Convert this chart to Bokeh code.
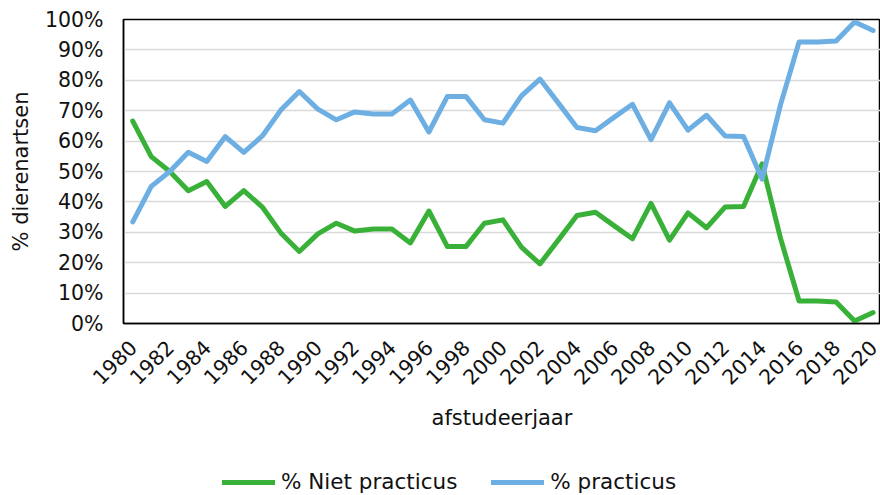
from math import pi
from bokeh.plotting import figure
from bokeh.layouts import column
from bokeh.models import (ColumnDataSource, FixedTicker, PrintfTickFormatter,
                          Legend, LegendItem, Range1d)
from bokeh.embed import file_html
from bokeh.resources import INLINE

years = list(range(1980, 2021))
niet_practicus = [66.6, 54.9, 50.0, 43.7, 46.7, 38.5, 43.7, 38.3, 29.8, 23.7,
                  29.5, 33.0, 30.4, 31.1, 31.1, 26.5, 37.0, 25.3, 25.3, 33.0,
                  34.1, 25.1, 19.6, 27.5, 35.5, 36.6, 32.2, 27.9, 39.5, 27.4,
                  36.4, 31.5, 38.3, 38.5, 52.5, 28.0, 7.4, 7.4, 7.1, 0.8, 3.6]
practicus = [33.4, 45.1, 50.0, 56.3, 53.3, 61.5, 56.3, 61.7, 70.2, 76.3,
             70.5, 67.0, 69.6, 68.9, 68.9, 73.5, 63.0, 74.7, 74.7, 67.0,
             65.9, 74.9, 80.4, 72.5, 64.5, 63.4, 67.8, 72.1, 60.5, 72.6,
             63.6, 68.5, 61.7, 61.5, 47.5, 72.0, 92.6, 92.6, 92.9, 99.2, 96.4]
x_ticks = years[::2]
y_ticks = list(range(0, 101, 10))
series_names = ["% Niet practicus", "% practicus"]
colors = ["#39B139", "#6DAEE3"]

FONT = "DejaVu Sans"
FS_TICK = "20.5px"
FS = "21px"
TXT = "#111111"

src = ColumnDataSource(dict(year=years, niet=niet_practicus, prac=practicus))

p = figure(width=880, height=455, output_backend="svg", toolbar_location=None,
           x_range=Range1d(1979.5, 2020.4), y_range=Range1d(0, 100),
           min_border_left=123, min_border_right=0, min_border_top=19,
           min_border_bottom=132)

r1 = p.line("year", "niet", source=src, line_color=colors[0], line_width=5,
            line_join="round", line_cap="round")
r2 = p.line("year", "prac", source=src, line_color=colors[1], line_width=5,
            line_join="round", line_cap="round")

p.outline_line_color = "black"
p.outline_line_width = 1.5

p.xgrid.grid_line_color = None
p.ygrid.grid_line_color = "#d9d9d9"
p.ygrid.grid_line_width = 1.5

p.yaxis.ticker = FixedTicker(ticks=y_ticks)
p.yaxis.formatter = PrintfTickFormatter(format="%d%%")
p.xaxis.ticker = FixedTicker(ticks=x_ticks)
p.xaxis.major_label_orientation = pi / 4

for ax in (p.xaxis, p.yaxis):
    ax.axis_line_color = "black"
    ax.axis_line_width = 1.5
    ax.major_tick_line_color = None
    ax.minor_tick_line_color = None
    ax.major_tick_out = 0
    ax.major_tick_in = 0
    ax.minor_tick_out = 0
    ax.major_label_text_font = FONT
    ax.major_label_text_font_size = FS_TICK
    ax.major_label_text_color = TXT
    ax.axis_label_text_font = FONT
    ax.axis_label_text_font_size = FS
    ax.axis_label_text_font_style = "normal"
    ax.axis_label_text_color = TXT

p.yaxis.major_label_standoff = 20
p.xaxis.major_label_standoff = 20
p.xaxis.axis_label = "afstudeerjaar"
p.yaxis.axis_label = "% dierenartsen"
p.xaxis.axis_label_standoff = 11
p.yaxis.axis_label_standoff = 9

# legend strip below the chart (its lines fall outside its 0..1 ranges)
lg = figure(width=880, height=40, output_backend="svg", toolbar_location=None,
            x_range=Range1d(0, 1), y_range=Range1d(0, 1),
            x_axis_location=None, y_axis_location=None,
            min_border_left=0, min_border_right=0, min_border_top=0,
            min_border_bottom=0)
lg.outline_line_color = None
lg.grid.visible = False
l1 = lg.line("year", "niet", source=src, line_color=colors[0], line_width=5,
             line_cap="round")
l2 = lg.line("year", "prac", source=src, line_color=colors[1], line_width=5,
             line_cap="round")
legend = Legend(items=[LegendItem(label=series_names[0], renderers=[l1]),
                       LegendItem(label=series_names[1], renderers=[l2])],
                location=(99, 1), orientation="horizontal")
legend.glyph_width = 53
legend.glyph_height = 20
legend.label_height = 20
legend.label_standoff = 6
legend.spacing = 34
legend.padding = 0
legend.margin = 0
legend.border_line_color = None
legend.background_fill_alpha = 0
legend.label_text_font = FONT
legend.label_text_font_size = "21.5px"
legend.label_text_color = TXT
lg.add_layout(legend, "center")

layout = column(p, lg, spacing=0)
open("out.html", "w").write(file_html(layout, INLINE))
